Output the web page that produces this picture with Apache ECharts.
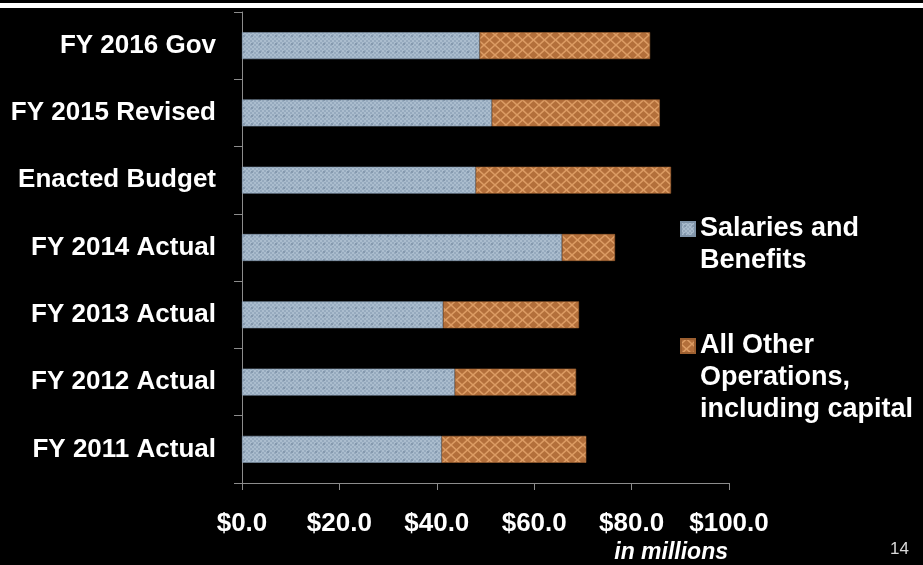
<!DOCTYPE html>
<html>
<head>
<meta charset="utf-8">
<script src="https://cdn.jsdelivr.net/npm/echarts@6/dist/echarts.min.js"></script>
<style>
  html, body { margin: 0; padding: 0; background: #000; }
  #chart { width: 923px; height: 565px; }
</style>
</head>
<body>
<div id="chart"></div>
<script>
// data, bottom to top as the category axis runs
const categories = ['FY 2011 Actual', 'FY 2012 Actual', 'FY 2013 Actual', 'FY 2014 Actual', 'Enacted Budget', 'FY 2015 Revised', 'FY 2016 Gov']
const salaries = [41.0, 43.7, 41.3, 65.7, 48.0, 51.3, 48.8]
const otherOps = [29.7, 24.9, 27.9, 10.9, 40.1, 34.5, 35.0]
const seriesNames = ['Salaries and\nBenefits', 'All Other\nOperations,\nincluding capital']

const FONT = '"Liberation Sans", Arial, sans-serif'

// small canvas tiles to mimic the office-style pattern fills
const makeBluePattern = () => {
  const c = document.createElement('canvas')
  c.width = 8; c.height = 8
  const g = c.getContext('2d')
  g.fillStyle = '#96aabe'
  g.fillRect(0, 0, 8, 8)
  g.fillStyle = '#abbdce'
  for (let y = 0; y < 8; y += 2) {
    for (let x = (y / 2) % 2 * 2; x < 8; x += 4) g.fillRect(x, y, 2, 2)
  }
  g.fillStyle = '#8599ae'
  g.fillRect(3, 3, 2, 2)
  return c
}

const makeOrangePattern = () => {
  const c = document.createElement('canvas')
  c.width = 11; c.height = 10
  const g = c.getContext('2d')
  g.fillStyle = '#b36f3b'
  g.fillRect(0, 0, 11, 10)
  g.strokeStyle = '#dc9c64'
  g.lineWidth = 1.6
  g.beginPath()
  g.moveTo(0, 5); g.lineTo(5.5, 0); g.lineTo(11, 5); g.lineTo(5.5, 10); g.closePath()
  g.stroke()
  return c
}

const blueFill = { image: makeBluePattern(), repeat: 'repeat' }
const orangeFill = { image: makeOrangePattern(), repeat: 'repeat' }

const legendText = {
  color: '#ffffff',
  fontFamily: FONT,
  fontWeight: 'bold',
  fontSize: 27,
  lineHeight: 32
}

const chart = echarts.init(document.getElementById('chart'), null, { renderer: 'canvas' })

chart.setOption({
  backgroundColor: '#000000',
  animation: false,
  grid: { left: 242, right: 194, top: 12, bottom: 82 },
  legend: [
    {
      data: [seriesNames[0]],
      orient: 'vertical',
      left: 680,
      top: 181,
      padding: 0,
      itemWidth: 14,
      itemHeight: 14,
      itemGap: 0,
      icon: 'rect',
      // leading blank line keeps the icon beside the first text line
      formatter: (name) => '\n' + name,
      textStyle: legendText
    },
    {
      data: [seriesNames[1]],
      orient: 'vertical',
      left: 680,
      top: 266,
      padding: 0,
      itemWidth: 14,
      itemHeight: 14,
      itemGap: 0,
      icon: 'rect',
      formatter: (name) => '\n\n' + name,
      textStyle: legendText
    }
  ],
  xAxis: {
    type: 'value',
    min: 0,
    max: 100,
    interval: 20,
    axisLine: { show: true, lineStyle: { color: '#8c8c8c', width: 1 } },
    axisTick: { show: true, length: 7, lineStyle: { color: '#8c8c8c' } },
    splitLine: { show: false },
    axisLabel: {
      color: '#ffffff',
      fontFamily: FONT,
      fontWeight: 'bold',
      fontSize: 26,
      margin: 28,
      formatter: (v) => '$' + v.toFixed(1)
    }
  },
  yAxis: {
    type: 'category',
    data: categories,
    axisLine: { show: true, lineStyle: { color: '#8c8c8c', width: 1 } },
    axisTick: { show: true, length: 8, lineStyle: { color: '#8c8c8c' } },
    axisLabel: {
      color: '#ffffff',
      fontFamily: FONT,
      fontWeight: 'bold',
      fontSize: 26,
      margin: 26
    }
  },
  series: [
    {
      name: seriesNames[0],
      type: 'bar',
      stack: 'total',
      barWidth: '40%',
      data: salaries,
      itemStyle: { color: blueFill, borderColor: '#7f93a8', borderWidth: 0.6 }
    },
    {
      name: seriesNames[1],
      type: 'bar',
      stack: 'total',
      barWidth: '40%',
      data: otherOps,
      itemStyle: { color: orangeFill, borderColor: '#9c5f30', borderWidth: 0.6 }
    }
  ],
  graphic: [
    {
      type: 'rect',
      shape: { x: 0, y: 3, width: 923, height: 5 },
      style: { fill: '#ffffff' }
    },
    {
      type: 'text',
      right: 195,
      top: 541,
      style: {
        text: 'in millions',
        fill: '#ffffff',
        font: 'italic bold 23px "Liberation Sans", Arial, sans-serif'
      }
    },
    {
      type: 'text',
      right: 14,
      top: 541,
      style: {
        text: '14',
        fill: '#d9d9d9',
        font: '17px "Liberation Sans", Arial, sans-serif'
      }
    }
  ]
})
</script>
</body>
</html>
